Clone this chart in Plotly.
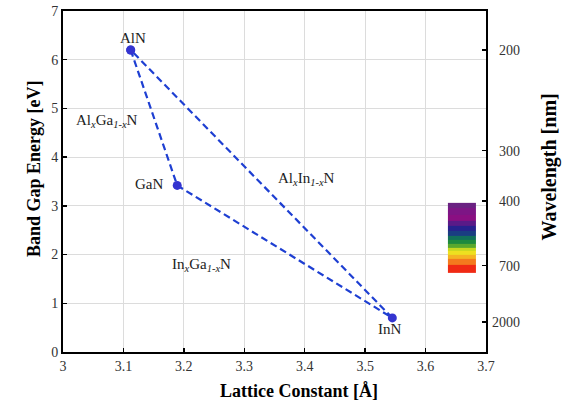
import plotly.graph_objects as go

# Data
materials = ["AlN", "GaN", "InN"]
lattice_const = [3.112, 3.189, 3.545]   # Å
band_gap = [6.2, 3.42, 0.70]            # eV

# Right axis ticks (wavelength, nm)
wl_ticks = [200, 300, 400, 700, 2000]

# Visible spectrum strip (wavelength edges, nm) and colours top->bottom
spectrum_wl_edges = [405, 420, 440, 460, 480, 500, 520, 540, 560, 580, 600, 620, 650, 690, 760]
spectrum_colors = ["#6a2282", "#7d1585", "#8a0f82", "#5a1a88", "#27218e", "#1a3d82",
                   "#12705a", "#1e8a3e", "#5aa82e", "#c8d820", "#eee020", "#f4b423",
                   "#f47a1e", "#f02a14"]

alloy_labels = [
    ("Al<sub><i>x</i></sub>Ga<sub><i>1-x</i></sub>N", 3.072, 4.74),
    ("Al<sub><i>x</i></sub>In<sub><i>1-x</i></sub>N", 3.403, 3.55),
    ("In<sub><i>x</i></sub>Ga<sub><i>1-x</i></sub>N", 3.229, 1.78),
]

FONT = "Liberation Serif"

fig = go.Figure()

# spectrum strip
energy_edges = [1239.84 / w for w in spectrum_wl_edges]
n = len(spectrum_colors)
cs = []
for i, c in enumerate(spectrum_colors):
    cs.append([i / n, c])
    cs.append([(i + 1) / n, c])
fig.add_trace(go.Heatmap(
    x=[3.637, 3.683], y=energy_edges,
    z=[[i + 0.5] for i in range(n)], zmin=0, zmax=n,
    colorscale=cs, showscale=False, hoverinfo="skip",
))

# triangle
fig.add_trace(go.Scatter(
    x=lattice_const + [lattice_const[0]],
    y=band_gap + [band_gap[0]],
    mode="lines+markers",
    line=dict(color="#1e3fd2", width=2.2, dash="7px,4px"),
    marker=dict(color="#3434d0", size=9),
    showlegend=False, hoverinfo="skip",
))

# dummy for right axis
fig.add_trace(go.Scatter(x=[None], y=[None], yaxis="y2", showlegend=False))

# material labels
offsets = {"AlN": (2, -12), "GaN": (-28, -1), "InN": (-3, 11)}
for m, xv, yv in zip(materials, lattice_const, band_gap):
    dx, dy = offsets[m]
    fig.add_annotation(x=xv, y=yv, text=m, showarrow=False, xshift=dx, yshift=-dy,
                       font=dict(family=FONT, size=15, color="#222"))

for txt, xv, yv in alloy_labels:
    fig.add_annotation(x=xv, y=yv, text=txt, showarrow=False,
                       font=dict(family=FONT, size=15, color="#222"))

# axis titles
title_font = dict(family=FONT, size=18, color="black")
fig.add_annotation(xref="paper", yref="paper", x=0.558, y=-0.1155, text="<b>Lattice Constant [Å]</b>",
                   showarrow=False, font=title_font, xanchor="center", yanchor="middle")
fig.add_annotation(xref="paper", yref="paper", x=-0.0686, y=0.5395, text="<b>Band Gap Energy [eV]</b>",
                   showarrow=False, textangle=-90, font=title_font, xanchor="center", yanchor="middle")
fig.add_annotation(xref="paper", yref="paper", x=1.150, y=0.5424, text="<b>Wavelength [nm]</b>",
                   showarrow=False, textangle=-90, font=dict(family=FONT, size=20, color="black"),
                   xanchor="center", yanchor="middle")

axis_common = dict(
    showline=True, linecolor="black", linewidth=2, mirror=True,
    showgrid=True, gridcolor="#dcdcdc", gridwidth=1,
    ticks="inside", ticklen=4, tickcolor="black", tickwidth=1.5,
    tickfont=dict(family=FONT, size=14, color="#333"), zeroline=False,
    automargin=False, ticklabeloverflow="allow",
)

maxlen = max(len(str(w)) for w in wl_ticks)
fig.update_layout(
    width=565, height=403,
    margin=dict(l=63, r=79, t=10.5, b=50.5),
    paper_bgcolor="white", plot_bgcolor="white",
    xaxis=dict(range=[3, 3.7], dtick=0.1, tickformat="~g", **axis_common),
    yaxis=dict(range=[0, 7], dtick=1, **axis_common),
    yaxis2=dict(range=[0, 7], overlaying="y", side="right",
                tickvals=[1239.84 / w for w in wl_ticks],
                ticktext=["\u2007" * (maxlen - len(str(w))) + str(w) for w in wl_ticks],
                showgrid=False, showline=False, ticks="inside", ticklen=4, tickcolor="black", tickwidth=1.5,
                tickfont=dict(family=FONT, size=14, color="#333"), zeroline=False, automargin=False,
                ticklabelstandoff=5, ticklabeloverflow="allow"),
    showlegend=False,
)

fig.write_html("out.html", config={"displayModeBar": False, "staticPlot": True},
               post_script="document.body.style.margin='0';")
